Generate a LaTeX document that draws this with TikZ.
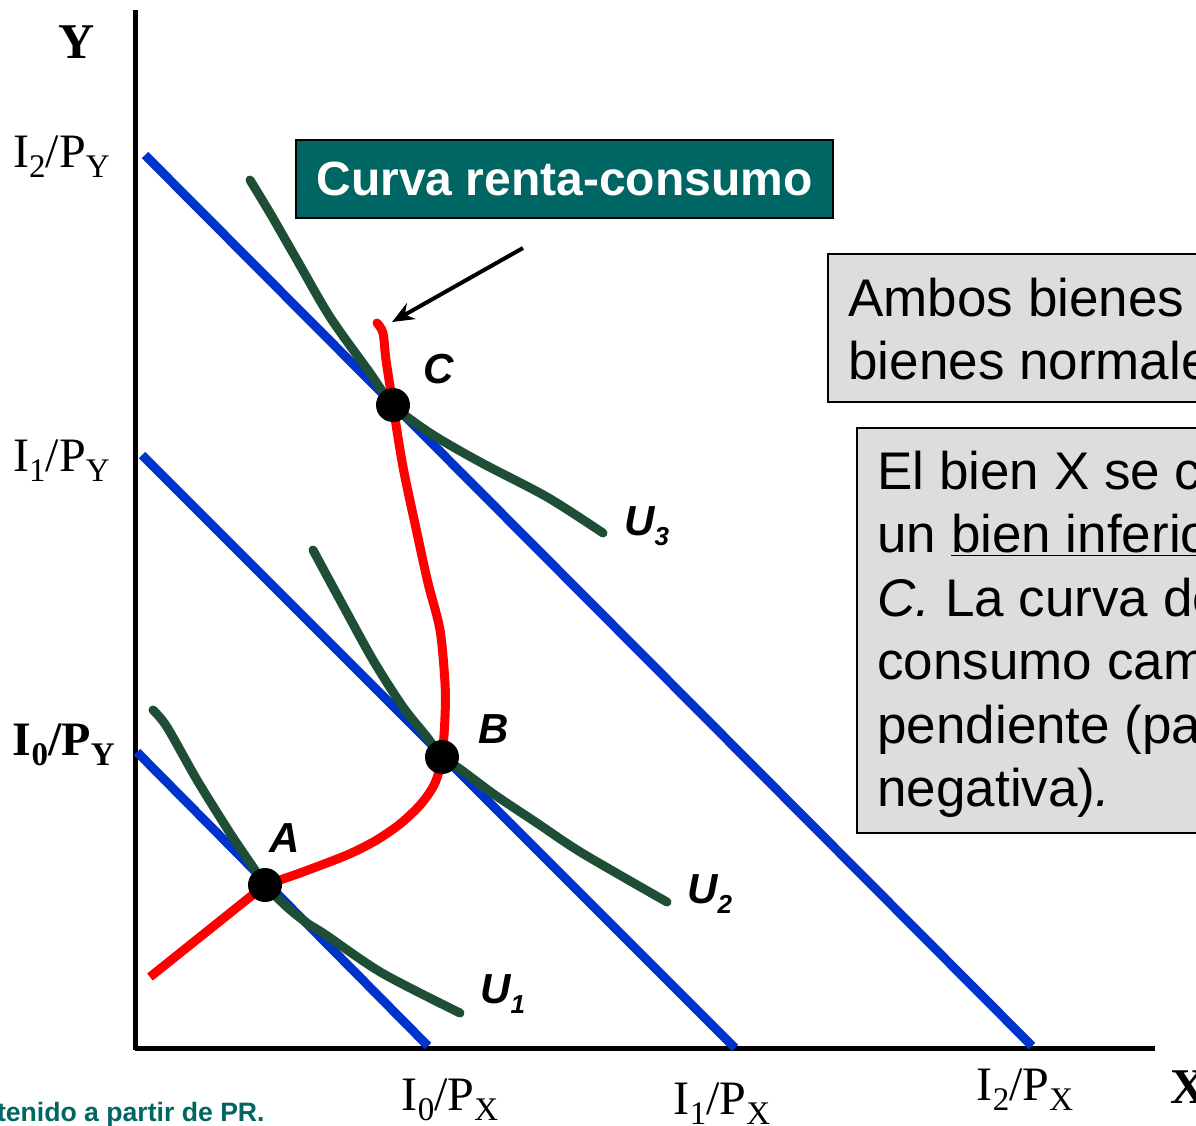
\documentclass[tikz,border=0pt]{standalone}
\usepackage{fontspec}
\setmainfont{Liberation Serif}
\setsansfont{Liberation Sans}
\usetikzlibrary{arrows.meta}
\definecolor{budget}{HTML}{0033CC}
\definecolor{indiff}{HTML}{1F4E36}
\definecolor{teal0}{HTML}{006663}
\definecolor{boxgray}{HTML}{DDDDDD}
\newcommand\axlab[4]{#1\raisebox{-5pt}{\fontsize{16.5}{16.5}\selectfont #2}/#3\raisebox{-5pt}{\fontsize{16.5}{16.5}\selectfont #4}}
\newcommand\ulab[2]{#1\raisebox{-5pt}{\fontsize{13}{13}\selectfont #2}}
\tikzset{
  axisline/.style={line width=2.5pt, black},
  budgetline/.style={line width=4.5pt, budget},
  icurve/.style={line width=4.5pt, indiff, line cap=round, line join=round},
  rcurve/.style={line width=4.5pt, red, line cap=round, line join=round},
  eqdot/.style={circle, fill=black, inner sep=0pt, minimum size=17pt},
  ptlabel/.style={inner sep=0pt, font=\sffamily\bfseries\itshape\fontsize{21}{21}\selectfont},
  axtext/.style={inner sep=0pt, font=\fontsize{24}{24}\selectfont},
  boxtext/.style={inner sep=0pt, anchor=base west, font=\sffamily\fontsize{26.5}{31.75}\selectfont},
  graybox/.style={draw=black, line width=1pt, fill=boxgray},
}
\begin{document}
\begin{tikzpicture}[x=0.5pt, y=-0.5pt]
\useasboundingbox (0,0) rectangle (1196,1126);
\clip (0,0) rectangle (1196,1126);

% axes
\coordinate (yTop) at (135,10);
\coordinate (orig) at (135,1050);
\coordinate (xEnd) at (1155,1048);
\draw[axisline] (yTop) -- (orig);
\draw[axisline] (135,1048) -- (xEnd);

% budget lines
\coordinate (b0s) at (137,752); \coordinate (b0e) at (428,1046);
\coordinate (b1s) at (142,455); \coordinate (b1e) at (735,1048);
\coordinate (b2s) at (145,155); \coordinate (b2e) at (1032,1046);
\draw[budgetline] (b0s) -- (b0e);
\draw[budgetline] (b1s) -- (b1e);
\draw[budgetline] (b2s) -- (b2e);

% indifference curves
\draw[icurve] plot[smooth, tension=0.5] coordinates {(153,710) (167,727) (197,780) (230,833) (253,867) (265,885) (287,907) (307,923) (326,935) (382,973) (460,1013)};
\draw[icurve] plot[smooth, tension=0.5] coordinates {(313,550) (340,600) (373,660) (403,707) (427,737) (442,757) (460,769) (495,795) (537,823) (582,853) (667,902)};
\draw[icurve] plot[smooth, tension=0.5] coordinates {(250,180) (270,213) (297,260) (330,317) (370,373) (393,405) (430,433) (480,462) (547,497) (603,533)};

% income-consumption curve
\draw[rcurve, line cap=butt] (150,977) -- (265,885);
\draw[rcurve] plot[smooth, tension=0.5] coordinates {(265,885) (300,873) (347,855) (375,841) (400,824) (421,804) (435,783) (442,757) (445,717) (445,683) (440,630) (428,583) (417,533) (403,467) (393,405) (386,360) (383,333) (377,323)};

% equilibrium points
\node[eqdot] (A) at (265,885) {};
\node[eqdot] (B) at (442,757) {};
\node[eqdot] (C) at (393,405) {};
\node[ptlabel, anchor=base west] (lA) at (269,852) {A};
\node[ptlabel, anchor=base west] (lB) at (478,743) {B};
\node[ptlabel, anchor=base west] (lC) at (423,383) {C};
\node[ptlabel, anchor=base west] (lU1) at (480,1003) {\ulab{U}{1}};
\node[ptlabel, anchor=base west] (lU2) at (687,903) {\ulab{U}{2}};
\node[ptlabel, anchor=base west] (lU3) at (624,535) {\ulab{U}{3}};

% axis labels
\node[axtext, anchor=base, font=\bfseries\fontsize{25}{25}\selectfont] (Ylab) at (77,58) {Y};
\node[axtext, anchor=base west, font=\bfseries\fontsize{25}{25}\selectfont] (Xlab) at (1170,1103) {X};
\node[axtext, anchor=base east] (i2py) at (110,167) {\axlab{I}{2}{P}{Y}};
\node[axtext, anchor=base east] (i1py) at (110,471) {\axlab{I}{1}{P}{Y}};
\node[axtext, anchor=base east, font=\bfseries\fontsize{24}{24}\selectfont] (i0py) at (115,755) {\axlab{I}{0}{P}{Y}};
\node[axtext, anchor=base] (i0px) at (450,1110) {\axlab{I}{0}{P}{X}};
\node[axtext, anchor=base] (i1px) at (722,1114) {\axlab{I}{1}{P}{X}};
\node[axtext, anchor=base] (i2px) at (1025,1100) {\axlab{I}{2}{P}{X}};

% title box and arrow
\node[draw=black, line width=1pt, fill=teal0, minimum width=268.5pt, minimum height=39pt, inner sep=0pt,
      text=white, font=\sffamily\bfseries\fontsize{24}{24}\selectfont] (title) at (564.5,179) {Curva renta-consumo};
\coordinate (arrS) at (523,248);
\coordinate (arrT) at (392,322);
\draw[line width=2pt, -{Stealth[length=11pt, width=9pt]}] (arrS) -- (arrT);

% explanation boxes
\draw[graybox] (828,254) rectangle (1215,402);
\node[boxtext] (t1a) at (848,316) {Ambos bienes son};
\node[boxtext] (t1b) at (848,379) {bienes normales};

\draw[graybox] (857,428) rectangle (1215,833);
\node[boxtext] (t2a) at (877,489) {El bien X se c};
\node[boxtext] (t2b) at (877,552) {un \underline{bien inferio}};
\node[boxtext] (t2c) at (877,616) {\itshape C.\upshape\ La curva de};
\node[boxtext] (t2d) at (877,679) {consumo cam};
\node[boxtext] (t2e) at (877,743) {pendiente (pa};
\node[boxtext] (t2f) at (877,806) {negativa)\textit{.}};

% footnote
\node[inner sep=0pt, anchor=base east, text=teal0, font=\sffamily\bfseries\fontsize{13.3}{13.3}\selectfont] (foot) at (265,1121) {tenido a partir de PR.};
\end{tikzpicture}
\end{document}
